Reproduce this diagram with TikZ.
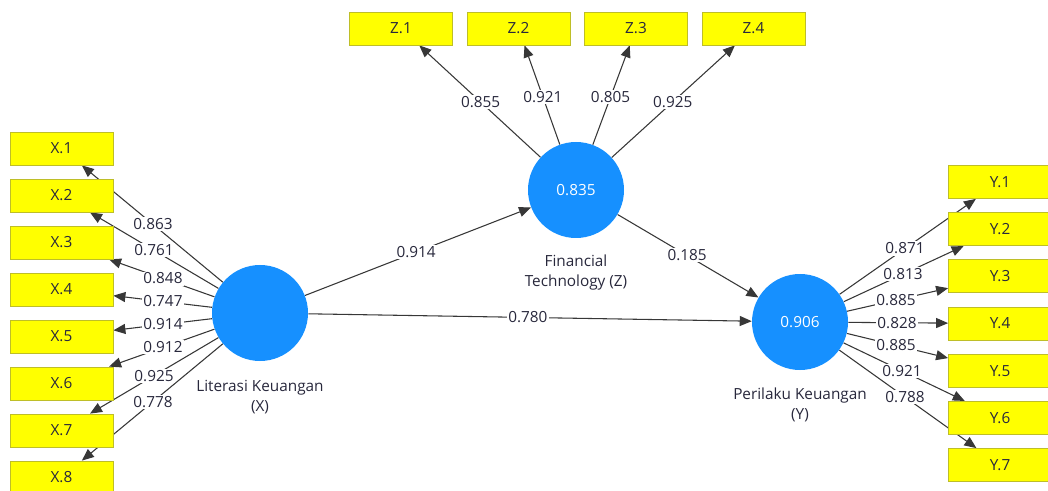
\documentclass[tikz,border=0pt]{standalone}
\usepackage{fontspec}
\setmainfont{Open Sans}
\usetikzlibrary{calc,arrows.meta}
\pgfdeclarelayer{bg}
\pgfsetlayers{bg,main}
\definecolor{boxfill}{RGB}{255,255,0}
\definecolor{boxline}{RGB}{190,190,40}
\definecolor{lvblue}{RGB}{22,144,255}
\definecolor{edgecol}{RGB}{55,55,55}
\definecolor{txtcol}{RGB}{40,40,60}
\begin{document}
\begin{tikzpicture}[x=0.75pt,y=-0.75pt,
  ind/.style={draw=boxline,fill=boxfill,line width=0.6pt,minimum width=77.25pt,minimum height=24.75pt,inner sep=0pt,font=\fontsize{11.5}{13}\selectfont,text=txtcol},
  lvnode/.style={circle,fill=lvblue,minimum size=72pt,inner sep=0pt,text=white,font=\fontsize{11.5}{13}\selectfont},
  lvlbl/.style={align=center,text=txtcol,font=\fontsize{11.5}{15}\selectfont},
  lbl/.style={fill=white,inner sep=1pt,text=txtcol,font=\fontsize{11.5}{13}\selectfont},
  arr/.style={draw=edgecol,line width=0.8pt,-{Triangle[length=9pt,width=7.5pt]}}
]
\useasboundingbox (0,0) rectangle (1048,491);
% latent variables
\node[lvnode] (X) at (260,313) {};
\node[lvnode] (Z) at (576,190) {0.835};
\node[lvnode] (Y) at (800,322) {0.906};
\node[lvlbl] (Xl) at (260,397) {Literasi Keuangan\\(X)};
\node[lvlbl] (Zl) at (576,273) {Financial\\Technology (Z)};
\node[lvlbl] (Yl) at (800,405) {Perilaku Keuangan\\(Y)};
% indicators X
\foreach \i in {1,...,8}{
  \node[ind] (x\i) at (61.5,{148.5+47*(\i-1)}) {X.\i};
}
% indicators Z
\node[ind] (z1) at (401,28.5) {Z.1};
\node[ind] (z2) at (518.5,28.5) {Z.2};
\node[ind] (z3) at (636,28.5) {Z.3};
\node[ind] (z4) at (753.5,28.5) {Z.4};
% indicators Y
\foreach \i in {1,...,7}{
  \node[ind] (y\i) at (1000,{182+47.17*(\i-1)}) {Y.\i};
}
% edges
\begin{pgfonlayer}{bg}
\foreach \i in {1,...,8}{ \draw[arr] (X) -- (x\i); }
\foreach \i in {1,...,4}{ \draw[arr] (Z) -- (z\i); }
\foreach \i in {1,...,7}{ \draw[arr] (Y) -- (y\i); }
\draw[arr] (X) -- (Z);
\draw[arr] (Z) -- (Y);
\draw[arr] (X) -- (Y);
\end{pgfonlayer}
% loading labels X
\node[lbl] (lx1) at ($(X)!0.539!(x1)$) {0.863};
\node[lbl] (lx2) at ($(X)!0.534!(x2)$) {0.761};
\node[lbl] (lx3) at ($(X)!0.489!(x3)$) {0.848};
\node[lbl] (lx4) at ($(X)!0.489!(x4)$) {0.747};
\node[lbl] (lx5) at ($(X)!0.489!(x5)$) {0.914};
\node[lbl] (lx6) at ($(X)!0.489!(x6)$) {0.912};
\node[lbl] (lx7) at ($(X)!0.534!(x7)$) {0.925};
\node[lbl] (lx8) at ($(X)!0.539!(x8)$) {0.778};
% loading labels Z
\node[lbl] (lz1) at ($(Z)!0.545!(z1)$) {0.855};
\node[lbl] (lz2) at ($(Z)!0.576!(z2)$) {0.921};
\node[lbl] (lz3) at ($(Z)!0.576!(z3)$) {0.805};
\node[lbl] (lz4) at ($(Z)!0.545!(z4)$) {0.925};
% loading labels Y
\node[lbl] (ly1) at ($(Y)!0.525!(y1)$) {0.871};
\node[lbl] (ly2) at ($(Y)!0.515!(y2)$) {0.813};
\node[lbl] (ly3) at ($(Y)!0.48!(y3)$) {0.885};
\node[lbl] (ly4) at ($(Y)!0.485!(y4)$) {0.828};
\node[lbl] (ly5) at ($(Y)!0.48!(y5)$) {0.885};
\node[lbl] (ly6) at ($(Y)!0.51!(y6)$) {0.921};
\node[lbl] (ly7) at ($(Y)!0.525!(y7)$) {0.788};
% path coefficients
\node[lbl] (pxz) at ($(X)!0.494!(Z)$) {0.914};
\node[lbl] (pzy) at ($(Z)!0.496!(Y)$) {0.185};
\node[lbl] (pxy) at ($(X)!0.496!(Y)$) {0.780};
\end{tikzpicture}
\end{document}
